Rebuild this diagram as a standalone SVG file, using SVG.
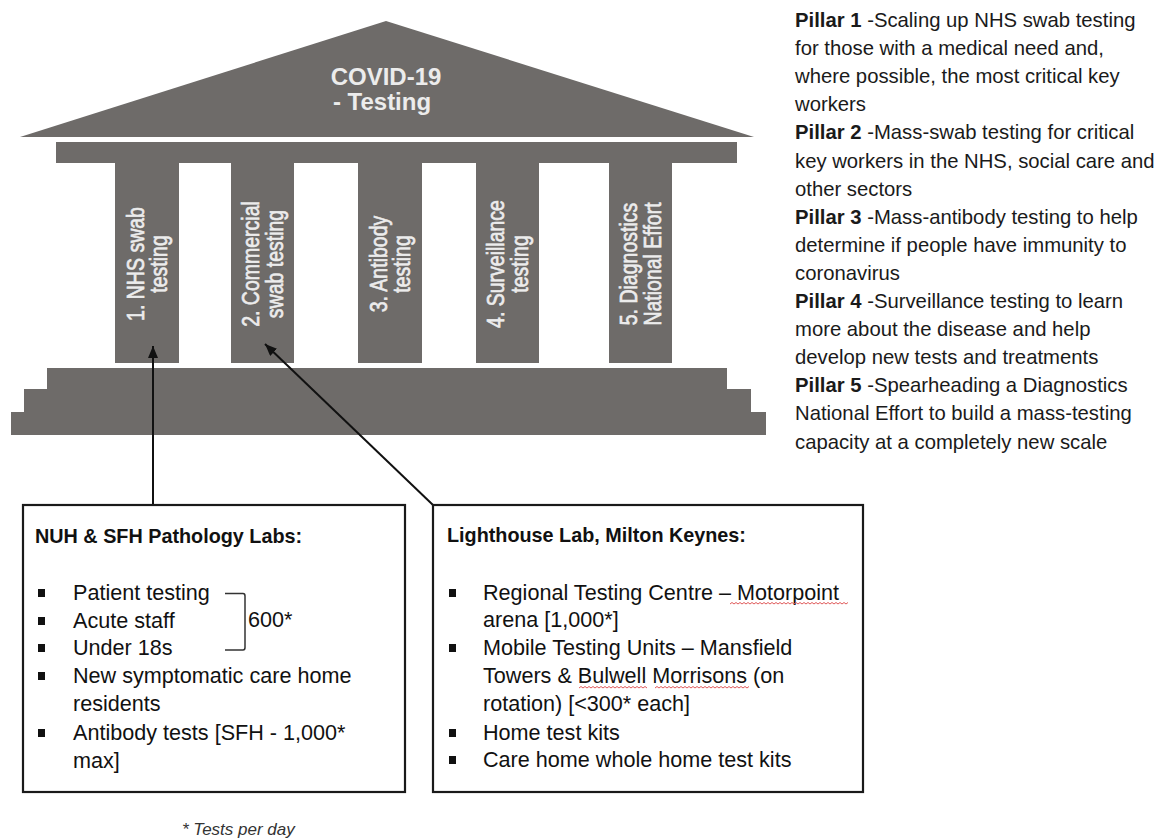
<svg xmlns="http://www.w3.org/2000/svg" width="1168" height="839" viewBox="0 0 1168 839">
  <style>
    .stone { fill: #6e6b69; }
    .pt { font-family: "Liberation Sans", Arial, sans-serif; font-size: 19.5px; fill: #ececec; stroke: #ececec; stroke-width: 0.55; text-anchor: middle; }
    .title { font-family: "Liberation Sans", Arial, sans-serif; font-size: 24px; font-weight: bold; fill: #ececec; text-anchor: middle; }
    .side { font-family: "Liberation Sans", Arial, sans-serif; font-size: 20.3px; fill: #1a1a1a; }
    .side .b { font-weight: bold; }
    .box { fill: #ffffff; stroke: #1a1a1a; stroke-width: 2.2; }
    .bt { font-family: "Liberation Sans", Arial, sans-serif; font-size: 21.6px; fill: #111; }
    .bh { font-family: "Liberation Sans", Arial, sans-serif; font-size: 19.8px; font-weight: bold; fill: #111; }
    .bul { fill: #111; }
    .conn { fill: none; stroke: #111; stroke-width: 2; }
    .squig { fill: none; stroke: #e05a5a; stroke-width: 1; }
    .note { font-family: "Liberation Sans", Arial, sans-serif; font-size: 17px; font-style: italic; fill: #333; }
  </style>
  <defs>
    <marker id="ah" viewBox="0 0 12 10" refX="12" refY="5" markerWidth="12" markerHeight="10" markerUnits="userSpaceOnUse" orient="auto">
      <path d="M0,0 L12,5 L0,10 z" fill="#111"/>
    </marker>
  </defs>

  <rect width="1168" height="839" fill="#ffffff"/>

  <!-- temple: roof, entablature, steps -->
  <g id="temple">
    <polygon class="stone" points="20,137 386,21 754,137"/>
    <text class="title" x="386" y="85">COVID-19</text>
    <text class="title" x="382" y="110">- Testing</text>
    <rect class="stone" x="56" y="142" width="681" height="21"/>
    <rect class="stone" x="47" y="368" width="680" height="21"/>
    <rect class="stone" x="24" y="389" width="727" height="23"/>
    <rect class="stone" x="11" y="412" width="755" height="23"/>
  </g>

  <g id="pillar1">
    <rect class="stone" x="115" y="163" width="64" height="200"/>
    <g transform="translate(147,264) rotate(-90) scale(1,1.22)">
      <text class="pt" x="0" y="-2.5">1. NHS swab</text>
      <text class="pt" x="0" y="16.4">testing</text>
    </g>
  </g>
  <g id="pillar2">
    <rect class="stone" x="231" y="163" width="63" height="200"/>
    <g transform="translate(262.5,264) rotate(-90) scale(1,1.22)">
      <text class="pt" x="0" y="-2.5">2. Commercial</text>
      <text class="pt" x="0" y="16.4">swab testing</text>
    </g>
  </g>
  <g id="pillar3">
    <rect class="stone" x="358" y="163" width="64" height="200"/>
    <g transform="translate(390,264) rotate(-90) scale(1,1.22)">
      <text class="pt" x="0" y="-2.5">3. Antibody</text>
      <text class="pt" x="0" y="16.4">testing</text>
    </g>
  </g>
  <g id="pillar4">
    <rect class="stone" x="476" y="163" width="63" height="200"/>
    <g transform="translate(507.5,264) rotate(-90) scale(1,1.22)">
      <text class="pt" x="0" y="-2.5">4. Surveillance</text>
      <text class="pt" x="0" y="16.4">testing</text>
    </g>
  </g>
  <g id="pillar5">
    <rect class="stone" x="609" y="163" width="63" height="200"/>
    <g transform="translate(640.5,264) rotate(-90) scale(1,1.22)">
      <text class="pt" x="0" y="-2.5">5. Diagnostics</text>
      <text class="pt" x="0" y="16.4">National Effort</text>
    </g>
  </g>

  <!-- pillar descriptions -->
  <g id="legend" class="side">
    <text x="795" y="27"><tspan class="b">Pillar 1</tspan> -Scaling up NHS swab testing</text>
    <text x="795" y="55.1">for those with a medical need and,</text>
    <text x="795" y="83.2">where possible, the most critical key</text>
    <text x="795" y="111.3">workers</text>
    <text x="795" y="139.4"><tspan class="b">Pillar 2</tspan> -Mass-swab testing for critical</text>
    <text x="795" y="167.5">key workers in the NHS, social care and</text>
    <text x="795" y="195.6">other sectors</text>
    <text x="795" y="223.7"><tspan class="b">Pillar 3</tspan> -Mass-antibody testing to help</text>
    <text x="795" y="251.8">determine if people have immunity to</text>
    <text x="795" y="279.9">coronavirus</text>
    <text x="795" y="308"><tspan class="b">Pillar 4</tspan> -Surveillance testing to learn</text>
    <text x="795" y="336.1">more about the disease and help</text>
    <text x="795" y="364.2">develop new tests and treatments</text>
    <text x="795" y="392.3"><tspan class="b">Pillar 5</tspan> -Spearheading a Diagnostics</text>
    <text x="795" y="420.4">National Effort to build a mass-testing</text>
    <text x="795" y="448.5">capacity at a completely new scale</text>
  </g>

  <!-- connectors from the lab boxes to the pillars -->
  <g id="connectors">
    <path class="conn" d="M153,505 V346" marker-end="url(#ah)"/>
    <path class="conn" d="M433,505 L265,344" marker-end="url(#ah)"/>
  </g>

  <g id="nuh-sfh-labs">
    <rect class="box" x="23" y="505" width="382" height="287"/>
    <text class="bh" x="35" y="543">NUH &amp; SFH Pathology Labs:</text>
    <rect class="bul" x="38" y="589" width="7" height="8"/>
    <rect class="bul" x="38" y="617" width="7" height="8"/>
    <rect class="bul" x="38" y="644" width="7" height="8"/>
    <rect class="bul" x="38" y="672" width="7" height="8"/>
    <rect class="bul" x="38" y="729" width="7" height="8"/>
    <text class="bt" x="73" y="600">Patient testing</text>
    <text class="bt" x="73" y="628">Acute staff</text>
    <text class="bt" x="73" y="655">Under 18s</text>
    <text class="bt" x="73" y="683">New symptomatic care home</text>
    <text class="bt" x="73" y="711">residents</text>
    <text class="bt" x="73" y="740">Antibody tests [SFH - 1,000*</text>
    <text class="bt" x="73" y="768">max]</text>
    <path d="M225,593.5 H243 Q245,593.5 245,596 V647.5 Q245,650 243,650 H225" fill="none" stroke="#333" stroke-width="1.5"/>
    <text class="bt" x="248" y="627">600*</text>
  </g>

  <g id="lighthouse-lab">
    <rect class="box" x="433" y="505" width="430" height="287"/>
    <text class="bh" x="447" y="542">Lighthouse Lab, Milton Keynes:</text>
    <rect class="bul" x="449" y="589" width="7" height="8"/>
    <rect class="bul" x="449" y="644" width="7" height="8"/>
    <rect class="bul" x="449" y="729" width="7" height="8"/>
    <rect class="bul" x="449" y="756" width="7" height="8"/>
    <text class="bt" x="483" y="600">Regional Testing Centre – Motorpoint</text>
    <text class="bt" x="483" y="627">arena [1,000*]</text>
    <text class="bt" x="483" y="655">Mobile Testing Units – Mansfield</text>
    <text class="bt" x="483" y="683">Towers &amp; Bulwell Morrisons (on</text>
    <text class="bt" x="483" y="711">rotation) [&lt;300* each]</text>
    <text class="bt" x="483" y="740">Home test kits</text>
    <text class="bt" x="483" y="767">Care home whole home test kits</text>
    <!-- spell-check underlines -->
    <path class="squig" d="M730,604 l2,-1.5 l2,1.5 l2,-1.5 l2,1.5 l2,-1.5 l2,1.5 l2,-1.5 l2,1.5 l2,-1.5 l2,1.5 l2,-1.5 l2,1.5 l2,-1.5 l2,1.5 l2,-1.5 l2,1.5 l2,-1.5 l2,1.5 l2,-1.5 l2,1.5 l2,-1.5 l2,1.5 l2,-1.5 l2,1.5 l2,-1.5 l2,1.5 l2,-1.5 l2,1.5 l2,-1.5 l2,1.5 l2,-1.5 l2,1.5 l2,-1.5 l2,1.5 l2,-1.5 l2,1.5 l2,-1.5 l2,1.5 l2,-1.5 l2,1.5 l2,-1.5 l2,1.5 l2,-1.5 l2,1.5 l2,-1.5 l2,1.5 l2,-1.5 l2,1.5 l2,-1.5 l2,1.5 l2,-1.5 l2,1.5 l2,-1.5 l2,1.5 l2,-1.5 l2,1.5 l2,-1.5 l2,1.5 l2,-1.5"/>
    <path class="squig" d="M579,688 l2,-1.5 l2,1.5 l2,-1.5 l2,1.5 l2,-1.5 l2,1.5 l2,-1.5 l2,1.5 l2,-1.5 l2,1.5 l2,-1.5 l2,1.5 l2,-1.5 l2,1.5 l2,-1.5 l2,1.5 l2,-1.5 l2,1.5 l2,-1.5 l2,1.5 l2,-1.5 l2,1.5 l2,-1.5 l2,1.5 l2,-1.5 l2,1.5 l2,-1.5 l2,1.5 l2,-1.5 l2,1.5 l2,-1.5 l2,1.5 l2,-1.5 l2,1.5"/>
    <path class="squig" d="M655,688 l2,-1.5 l2,1.5 l2,-1.5 l2,1.5 l2,-1.5 l2,1.5 l2,-1.5 l2,1.5 l2,-1.5 l2,1.5 l2,-1.5 l2,1.5 l2,-1.5 l2,1.5 l2,-1.5 l2,1.5 l2,-1.5 l2,1.5 l2,-1.5 l2,1.5 l2,-1.5 l2,1.5 l2,-1.5 l2,1.5 l2,-1.5 l2,1.5 l2,-1.5 l2,1.5 l2,-1.5 l2,1.5 l2,-1.5 l2,1.5 l2,-1.5 l2,1.5 l2,-1.5 l2,1.5 l2,-1.5 l2,1.5 l2,-1.5 l2,1.5 l2,-1.5 l2,1.5 l2,-1.5 l2,1.5 l2,-1.5 l2,1.5 l2,-1.5"/>
  </g>

  <text id="footnote" class="note" x="182" y="835">* Tests per day</text>
</svg>
